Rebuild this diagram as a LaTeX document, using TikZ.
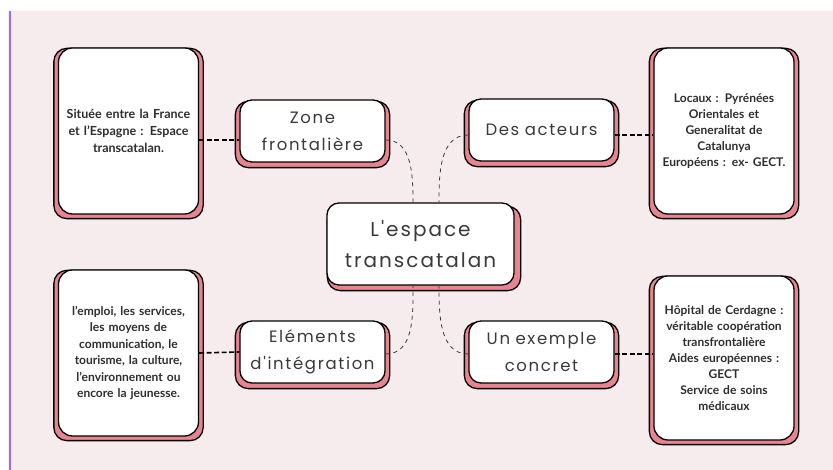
\documentclass[tikz,border=0pt]{standalone}
\usepackage{fontspec}
\setmainfont{Lato}
\newfontfamily\titlefont{Poppins}[LetterSpace=10]
\usetikzlibrary{backgrounds}
\definecolor{fond}{HTML}{F6ECEE}
\definecolor{rose}{HTML}{E8848F}
\definecolor{violet}{HTML}{9B6BFF}
\definecolor{encre}{HTML}{3A3A3A}

\begin{document}
\begin{tikzpicture}[x=1pt,y=1pt,
  box/.style={draw=black, line width=1.3pt, fill=white, align=center, inner sep=2pt},
  note/.style={box, rounded corners=14pt, minimum width=140pt, minimum height=166pt, text width=136pt, text=black!82,
    font=\bfseries\fontsize{12}{16.5}\selectfont},
  theme/.style={box, rounded corners=12pt, minimum width=141pt, minimum height=62pt, text width=141pt, text=encre,
    font=\titlefont\fontsize{16.5}{27}\selectfont},
  centre/.style={theme, minimum width=183pt, minimum height=82pt, text width=183pt, font=\titlefont\fontsize{20}{31}\selectfont},
  ombre/.style={draw=black, line width=1.3pt, fill=rose, rounded corners=13pt},
  lien/.style={line width=1.6pt, dash pattern=on 5pt off 2.5pt},
  branche/.style={draw=encre, line width=0.8pt, dash pattern=on 4pt off 4pt}]
\useasboundingbox (0,0) rectangle (833,470);

\node[centre] (centre) at (420.5,226) {L'espace\\transcatalan};
\node[theme] (zone) at (312.5,339) {Zone\\frontalière};
\node[theme] (acteurs) at (541.5,340) {Des acteurs};
\node[theme] (elements) at (312.5,118) {Eléments\\d'intégration};
\node[theme] (exemple) at (541.5,118) {Un exemple\\concret};

\node[note, font=\bfseries\fontsize{12.5}{17}\selectfont] (situee) at (128.5,339)
  {Située entre la France\\et l'Espagne : Espace\\transcatalan.};
\node[note, font=\bfseries\fontsize{12}{16}\selectfont] (locaux) at (724,339)
  {Locaux : Pyrénées\\Orientales et\\Generalitat de\\Catalunya\\Européens : ex- GECT.};
\node[note] (emploi) at (128.5,117)
  {l'emploi, les services,\\les moyens de\\communication, le\\tourisme, la culture,\\l'environnement ou\\encore la jeunesse.};
\node[note, minimum height=164pt, font=\bfseries\fontsize{12}{16}\selectfont] (hopital) at (724,112)
  {Hôpital de Cerdagne :\\véritable coopération\\transfrontalière\\Aides européennes :\\GECT\\Service de soins\\médicaux};

% liens pointilles
\draw[lien] ([yshift=-9]situee.east) -- ([yshift=-9]zone.west);
\draw[lien] ([yshift=-5]acteurs.east) -- ([yshift=-5]acteurs.east -| locaux.west);
\draw[lien] (emploi.east) -- (elements.west);
\draw[lien] ([yshift=-2]exemple.east) -- ([yshift=-2]exemple.east -| hopital.west);

\draw[branche] ([yshift=-9]zone.east) to[out=0,in=90] ([xshift=-7.5]centre.north);
\draw[branche] ([yshift=-5]acteurs.west) to[out=180,in=90] ([xshift=18.5]centre.north);
\draw[branche] ([yshift=-2]elements.east) to[out=0,in=-90] ([xshift=-7.5]centre.south);
\draw[branche] ([yshift=-2]exemple.west) to[out=180,in=-90] ([xshift=18.5]centre.south);

\begin{scope}[on background layer]
  \fill[fond] (8,0) rectangle (833,459);
  \draw[violet, line width=2pt] (9.5,0) -- (9.5,459);
  \foreach \n in {situee,locaux,emploi,hopital}
    \draw[ombre] ([shift={(-4,-4)}]\n.south west) rectangle ([shift={(4,-1)}]\n.north east);
  \foreach \n in {zone,acteurs,elements,exemple}
    \draw[ombre] ([shift={(-4,-5)}]\n.south west) rectangle ([shift={(4,-2)}]\n.north east);
  \draw[ombre] ([shift={(1,-5)}]centre.south west) rectangle ([shift={(6,-4)}]centre.north east);
\end{scope}
\end{tikzpicture}
\end{document}
